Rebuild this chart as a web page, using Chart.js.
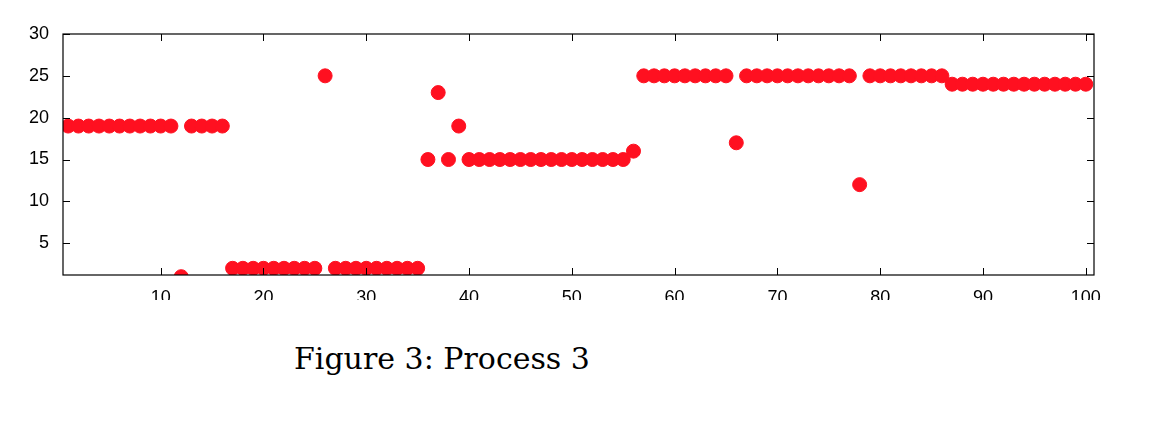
<!DOCTYPE html>
<html>
<head>
<meta charset="utf-8">
<script src="https://cdn.jsdelivr.net/npm/chart.js@4/dist/chart.umd.min.js"></script>
<style>
  body { margin: 0; background: #fff; width: 1152px; height: 432px; position: relative; overflow: hidden; }
  #wrap { position: absolute; left: 0; top: 0; width: 1152px; height: 300px; }
  #caption { position: absolute; left: 294px; top: 341px; font-family: "DejaVu Serif", "Liberation Serif", serif; font-size: 30px; color: #000; }
</style>
</head>
<body>
<div id="wrap"><canvas id="c"></canvas></div>
<div id="caption">Figure 3: Process 3</div>
<script>
// process index (x) and value (y)
const steps = [];
for (let i = 1; i <= 100; i++) steps.push(i);

const values = [
  19, 19, 19, 19, 19, 19, 19, 19, 19, 19,   // 1-10
  19, 1, 19, 19, 19, 19, 2, 2, 2, 2,        // 11-20
  2, 2, 2, 2, 2, 25, 2, 2, 2, 2,            // 21-30
  2, 2, 2, 2, 2, 15, 23, 15, 19, 15,        // 31-40
  15, 15, 15, 15, 15, 15, 15, 15, 15, 15,   // 41-50
  15, 15, 15, 15, 15, 16, 25, 25, 25, 25,   // 51-60
  25, 25, 25, 25, 25, 17, 25, 25, 25, 25,   // 61-70
  25, 25, 25, 25, 25, 25, 25, 12, 25, 25,   // 71-80
  25, 25, 25, 25, 25, 25, 24, 24, 24, 24,   // 81-90
  24, 24, 24, 24, 24, 24, 24, 24, 24, 24    // 91-100
];

const xTicks = [10, 20, 30, 40, 50, 60, 70, 80, 90, 100];
const yTicks = [5, 10, 15, 20, 25, 30];

// tick marks drawn inward on all four sides
const innerTicks = {
  id: "innerTicks",
  afterDraw(chart) {
    const c = chart.ctx, a = chart.chartArea;
    const xs = chart.scales.x, ys = chart.scales.y;
    c.save();
    c.strokeStyle = "#000";
    c.lineWidth = 1;
    c.beginPath();
    xTicks.forEach(v => {
      const px = Math.round(xs.getPixelForValue(v)) + 0.5;
      c.moveTo(px, a.bottom); c.lineTo(px, a.bottom - 7);
      c.moveTo(px, a.top); c.lineTo(px, a.top + 7);
    });
    yTicks.forEach(v => {
      const py = Math.round(ys.getPixelForValue(v)) + 0.5;
      c.moveTo(a.left, py); c.lineTo(a.left + 7, py);
      c.moveTo(a.right, py); c.lineTo(a.right - 7, py);
    });
    c.stroke();
    c.lineWidth = 1.2;
    c.strokeRect(a.left, a.top, a.right - a.left, a.bottom - a.top);
    c.restore();
  }
};

new Chart(document.getElementById("c"), {
  type: "scatter",
  data: {
    datasets: [{
      data: steps.map((s, i) => ({ x: s, y: values[i] })),
      backgroundColor: "#ff1020",
      borderColor: "#ff1020",
      pointRadius: 7,
      pointHoverRadius: 7
    }]
  },
  options: {
    responsive: true,
    maintainAspectRatio: false,
    animation: false,
    layout: { padding: { left: 0, right: 58, top: 34, bottom: 0 } },
    plugins: { legend: { display: false }, tooltip: { enabled: false } },
    scales: {
      x: {
        type: "linear", min: 0.5, max: 100.8,
        afterBuildTicks: s => { s.ticks = xTicks.map(v => ({ value: v })); },
        afterFit: s => { s.height = 25; },
        grid: { display: false },
        border: { display: false },
        ticks: { color: "#000", font: { family: "Liberation Sans", size: 18 }, padding: 4 }
      },
      y: {
        min: 1.2, max: 30,
        afterBuildTicks: s => { s.ticks = yTicks.map(v => ({ value: v })); },
        afterFit: s => { s.width = 63; },
        grid: { display: false },
        border: { display: false },
        ticks: { color: "#000", font: { family: "Liberation Sans", size: 18 }, padding: 6 }
      }
    }
  },
  plugins: [innerTicks]
});
</script>
</body>
</html>
